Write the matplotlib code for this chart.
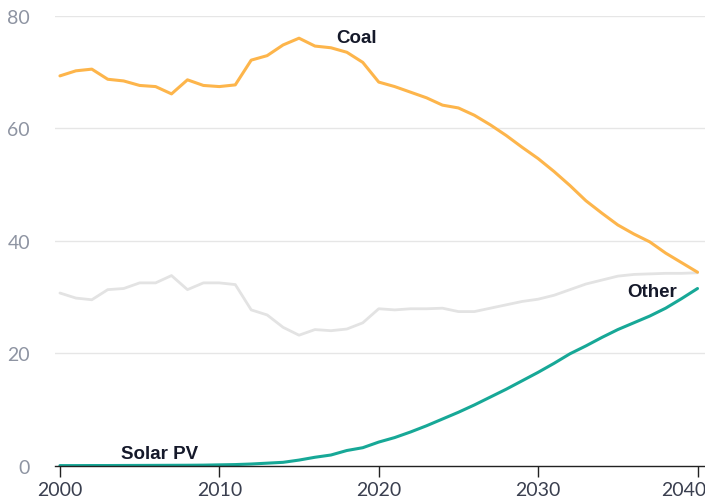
import matplotlib
matplotlib.use("Agg")
import matplotlib.pyplot as plt
import matplotlib.transforms as mtransforms

years = list(range(2000, 2041))
coal = [69.3, 70.2, 70.5, 68.7, 68.4, 67.6, 67.4, 66.1, 68.6, 67.6,
        67.4, 67.7, 72.1, 72.9, 74.8, 76.0, 74.6, 74.3, 73.5, 71.7,
        68.2, 67.4, 66.4, 65.4, 64.1, 63.6, 62.3, 60.6, 58.7, 56.6,
        54.6, 52.3, 49.8, 47.1, 44.9, 42.8, 41.2, 39.8, 37.8, 36.1,
        34.4]
other = [30.7, 29.8, 29.5, 31.3, 31.5, 32.5, 32.5, 33.8, 31.3, 32.5,
         32.5, 32.2, 27.7, 26.8, 24.6, 23.2, 24.2, 24.0, 24.3, 25.4,
         27.9, 27.7, 27.9, 27.9, 28.0, 27.4, 27.4, 28.0, 28.6, 29.2,
         29.6, 30.3, 31.3, 32.3, 33.0, 33.7, 34.0, 34.1, 34.2, 34.2,
         34.3]
solar = [0.02, 0.02, 0.03, 0.03, 0.04, 0.05, 0.06, 0.07, 0.08, 0.1,
         0.15, 0.2, 0.3, 0.45, 0.6, 1.0, 1.5, 1.9, 2.7, 3.2,
         4.2, 5.0, 6.0, 7.1, 8.3, 9.5, 10.8, 12.2, 13.6, 15.1,
         16.6, 18.2, 19.9, 21.3, 22.8, 24.2, 25.4, 26.6, 28.0, 29.7,
         31.5]
yticks = [0, 20, 40, 60, 80]
xticks = [2000, 2010, 2020, 2030, 2040]
labels = ["Coal", "Other", "Solar PV"]

plt.rcParams['font.family'] = ['Lato', 'DejaVu Sans']

fig = plt.figure(figsize=(7.05, 5.02), dpi=100)
ax = fig.add_axes([55 / 705, 35.3 / 502, 650 / 705, 450 / 502])

ax.plot(years, other, color="#e3e3e3", lw=2.0, solid_capstyle="round", zorder=2)
ax.plot(years, coal, color="#fdb54b", lw=2.2, solid_capstyle="round", zorder=3)
ax.plot(years, solar, color="#17a897", lw=2.2, solid_capstyle="round", zorder=4)

ax.set_xlim(1999.69, 2040.47)
ax.set_ylim(0, 80)
ax.set_yticks(yticks)
ax.set_xticks(xticks)
ax.set_xticklabels([str(x) for x in xticks])
ax.set_yticklabels([str(y) for y in yticks])

for y in yticks[1:]:
    ax.axhline(y, color="#e6e6e6", lw=1.0, zorder=1)

for s in ["top", "right", "left"]:
    ax.spines[s].set_visible(False)
ax.spines["bottom"].set_color("#222222")
ax.spines["bottom"].set_linewidth(1.0)
ax.spines["bottom"].set_zorder(5)

ax.tick_params(axis="y", length=0, pad=18, labelsize=14, labelcolor="#8e94a2")
ax.tick_params(axis="x", length=8, width=1.0, color="#222222", pad=3,
               labelsize=14, labelcolor="#3a3f4f")
for lab in ax.get_yticklabels():
    lab.set_horizontalalignment("right")

# shift last x label left so it stays mostly inside the figure, as in the reference
last = ax.get_xticklabels()[-1]
last.set_transform(last.get_transform() +
                   mtransforms.ScaledTranslation(-14 / 100, 0, fig.dpi_scale_trans))

lab_kw = dict(ha="center", va="center", fontsize=13.5, fontweight="bold",
              color="#15192a", family=["Liberation Sans", "DejaVu Sans"])
ax.text(2018.64, 76.2, labels[0], **lab_kw)
ax.text(2037.16, 31.05, labels[1], **lab_kw)
ax.text(2006.28, 2.1, labels[2], **lab_kw)

fig.savefig("out.png", dpi=100)
